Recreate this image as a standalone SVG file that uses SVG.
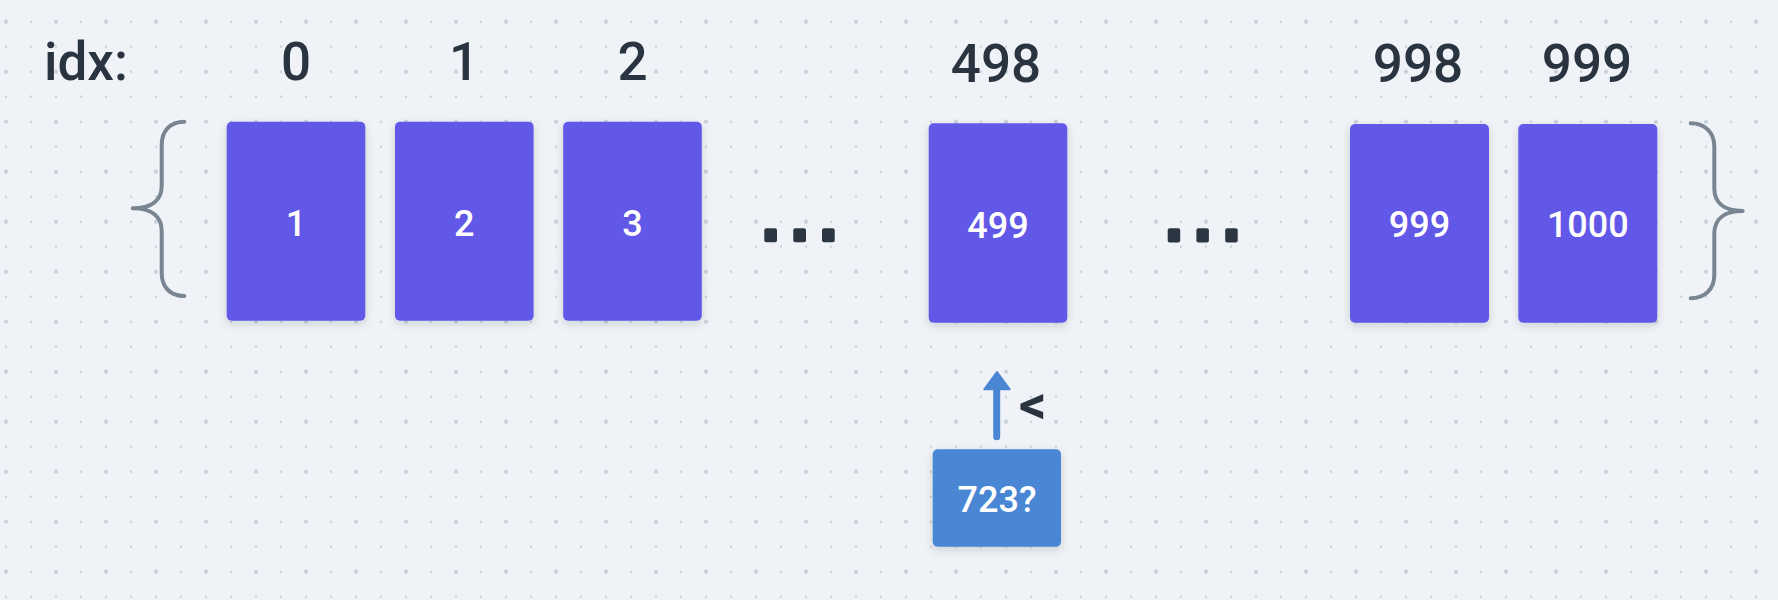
<svg xmlns="http://www.w3.org/2000/svg" width="1778" height="600" viewBox="0 0 1778 600">
<defs>
<pattern id="dots" x="-19" y="-3.3" width="50" height="50" patternUnits="userSpaceOnUse">
<circle cx="25" cy="25" r="2" fill="#c6ced9"/>
<circle cx="0" cy="0" r="1.2" fill="#c9d0da"/>
<circle cx="25" cy="0" r="1.2" fill="#c9d0da"/>
<circle cx="0" cy="25" r="1.2" fill="#c9d0da"/>
<circle cx="50" cy="0" r="1.2" fill="#c9d0da"/>
<circle cx="0" cy="50" r="1.2" fill="#c9d0da"/>
<circle cx="50" cy="50" r="1.2" fill="#c9d0da"/>
<circle cx="50" cy="25" r="1.2" fill="#c9d0da"/>
<circle cx="25" cy="50" r="1.2" fill="#c9d0da"/>
</pattern>
<filter id="shadow" x="-20%" y="-20%" width="140%" height="140%">
<feDropShadow dx="0" dy="3" stdDeviation="4" flood-color="#1a2433" flood-opacity="0.16"/>
</filter>
</defs>
<style>
.idx{font-family:Roboto,"Liberation Sans",sans-serif;font-size:53px;font-weight:500;fill:#2a3440;text-anchor:middle}
.box{fill:#6259e8;filter:url(#shadow)}
.val{font-family:Roboto,"Liberation Sans",sans-serif;font-size:36px;font-weight:500;fill:#ffffff;text-anchor:middle}
.brace{fill:none;stroke:#7a8592;stroke-width:4;stroke-linecap:round;stroke-linejoin:round}
.dot{fill:#2c3642}
</style>
<rect width="1778" height="600" fill="#eff3f7"/>
<rect width="1778" height="600" fill="url(#dots)"/>

<g id="labels">
<text x="86" y="80" class="idx">idx:</text>
<text x="296" y="80" class="idx">0</text>
<text x="464" y="80" class="idx">1</text>
<text x="632.5" y="80" class="idx">2</text>
<text x="996" y="81.5" class="idx">498</text>
<text x="1418" y="81.5" class="idx">998</text>
<text x="1587" y="81.5" class="idx">999</text>
</g>

<g id="brace-left">
<path class="brace" d="M184.3,121.7 C170,121.7 161.7,131 161.7,145 L161.7,186 C161.7,200 152,208.3 132.7,208.3 C152,208.3 161.7,217 161.7,231 L161.7,273 C161.7,287 170,296 184.3,296"/>
</g>
<g id="brace-right">
<path class="brace" d="M1690.7,123.3 C1705,123.3 1714.3,132.6 1714.3,146.6 L1714.3,188.6 C1714.3,202.6 1724,211 1742.7,211 C1724,211 1714.3,219.4 1714.3,233.4 L1714.3,275 C1714.3,289 1705,298.3 1690.7,298.3"/>
</g>

<g id="node-0">
<rect class="box" x="226.7" y="121.7" width="138.6" height="199" rx="5"/>
<text x="296" y="236" class="val">1</text>
</g>
<g id="node-1">
<rect class="box" x="395" y="121.7" width="138.6" height="199" rx="5"/>
<text x="464.3" y="236" class="val">2</text>
</g>
<g id="node-2">
<rect class="box" x="563.2" y="121.7" width="138.6" height="199" rx="5"/>
<text x="632.5" y="236" class="val">3</text>
</g>
<g id="ellipsis-1">
<rect class="dot" x="764.3" y="228.3" width="12.7" height="14" rx="2"/>
<rect class="dot" x="793.3" y="228.3" width="12.7" height="14" rx="2"/>
<rect class="dot" x="822" y="228.3" width="12.7" height="14" rx="2"/>
</g>
<g id="node-498">
<rect class="box" x="928.7" y="123.3" width="138.6" height="199.4" rx="5"/>
<text x="998" y="237.7" class="val">499</text>
</g>
<g id="ellipsis-2">
<rect class="dot" x="1167.7" y="228.3" width="12.5" height="14.2" rx="2"/>
<rect class="dot" x="1196.4" y="228.3" width="12.5" height="14.2" rx="2"/>
<rect class="dot" x="1225.2" y="228.3" width="12.5" height="14.2" rx="2"/>
</g>
<g id="node-998">
<rect class="box" x="1350" y="124" width="139" height="198.7" rx="5"/>
<text x="1419.5" y="237.3" class="val">999</text>
</g>
<g id="node-999">
<rect class="box" x="1518.3" y="124" width="139" height="198.7" rx="5"/>
<text x="1587.8" y="237.3" class="val">1000</text>
</g>

<g id="connectors">
<line x1="996.7" y1="436.7" x2="996.7" y2="388" stroke="#4a86d4" stroke-width="7" stroke-linecap="round"/>
<polygon points="984.3,389.3 1009.7,389.3 997,372" fill="#4a86d4" stroke="#4a86d4" stroke-width="2" stroke-linejoin="round"/>
<text x="1019" y="422.7" font-family="Roboto,'Liberation Sans',sans-serif" font-size="54" font-weight="bold" fill="#2a3440">&lt;</text>
</g>

<g id="query">
<rect x="932.7" y="449.3" width="128.3" height="97.4" rx="5" fill="#4a86d4" filter="url(#shadow)"/>
<text x="997" y="512.3" class="val">723?</text>
</g>
</svg>
